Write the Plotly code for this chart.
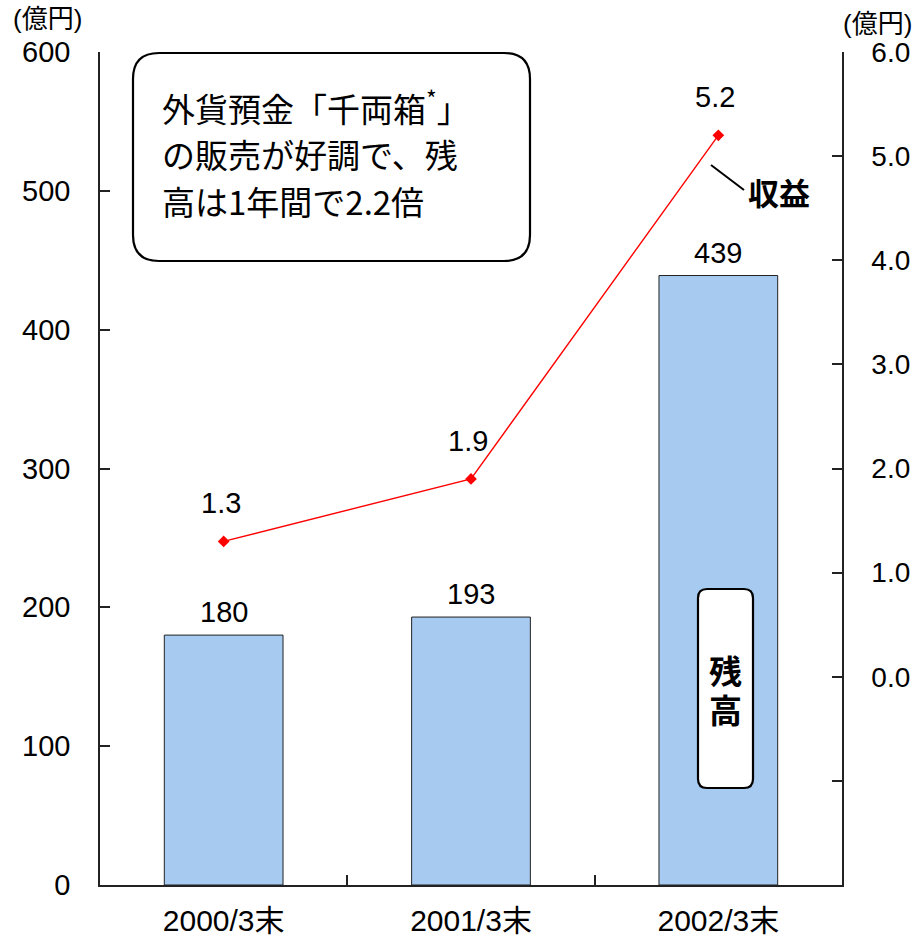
import plotly.graph_objects as go

# ---- data ----
categories = ["2000/3末", "2001/3末", "2002/3末"]
balance = [180, 193, 439]          # 残高（億円） left axis
profit = [1.3, 1.9, 5.2]           # 収益（億円） right axis
left_ticks = [0, 100, 200, 300, 400, 500, 600]
right_ticks = [0, 1, 2, 3, 4, 5, 6]
right_tick_text = ["0.0", "1.0", "2.0", "3.0", "4.0", "5.0", "6.0"]
right_minor_ticks = [-2, -1]       # unlabelled ticks below zero
right_range = [-2, 6]

FONT = "Liberation Sans, Arial, Noto Sans CJK JP, sans-serif"
JP = "Noto Sans CJK JP, sans-serif"

# plot-area geometry in pixels (used to place the decorations)
L, R, T, B = 100, 842, 52, 885
W, H = R - L, B - T


def px(x):
    return (x - L) / W


def py(y):
    return (B - y) / H


def rounded_rect(x0, y0, x1, y1, r):
    """SVG path (paper coords) for a rounded rectangle given in pixels."""
    rx, ry = r / W, r / H
    a, b, c, d = px(x0), px(x1), py(y0), py(y1)  # left, right, top, bottom
    return (
        f"M {a + rx},{c} L {b - rx},{c} Q {b},{c} {b},{c - ry} "
        f"L {b},{d + ry} Q {b},{d} {b - rx},{d} "
        f"L {a + rx},{d} Q {a},{d} {a},{d + ry} "
        f"L {a},{c - ry} Q {a},{c} {a + rx},{c} Z"
    )


fig = go.Figure()

fig.add_trace(go.Bar(
    x=categories, y=balance, width=0.48,
    marker=dict(color="#A6CAF0", line=dict(color="#222222", width=1)),
    yaxis="y", showlegend=False, hoverinfo="x+y",
))

fig.add_trace(go.Scatter(
    x=categories, y=profit, mode="lines+markers",
    line=dict(color="#FF0000", width=1.4),
    marker=dict(symbol="diamond", size=9, color="#FF0000"),
    yaxis="y2", showlegend=False,
))

annotations = []
# bar value labels
for c, v in zip(categories, balance):
    annotations.append(dict(x=c, y=v, xref="x", yref="y", text=str(v),
                            showarrow=False, yanchor="middle", yshift=23,
                            font=dict(family=FONT, size=29, color="black")))
# line value labels
for c, v in zip(categories, profit):
    annotations.append(dict(x=c, y=v, xref="x", yref="y2", text=f"{v:.1f}",
                            showarrow=False, yanchor="middle", yshift=38,
                            xshift=-3,
                            font=dict(family=FONT, size=29, color="black")))

# unit labels
annotations.append(dict(x=px(47), y=py(19), xref="paper", yref="paper",
                        text="(億円)", showarrow=False, xanchor="center",
                        yanchor="middle",
                        font=dict(family=FONT, size=26, color="black")))
annotations.append(dict(x=px(877), y=py(24), xref="paper", yref="paper",
                        text="(億円)", showarrow=False, xanchor="center",
                        yanchor="middle",
                        font=dict(family=FONT, size=26, color="black")))

# callout text
callout = ["外貨預金「千両箱<sup>*</sup>」", "の販売が好調で、残", "高は1年間で2.2倍"]
for line, yc in zip(callout, [107, 154, 201]):
    annotations.append(dict(x=px(160), y=py(yc), xref="paper", yref="paper",
                            text=line, showarrow=False, xanchor="left",
                            yanchor="middle",
                            font=dict(family=JP, size=33, color="black")))

# series name labels
annotations.append(dict(x=px(779), y=py(191), xref="paper", yref="paper",
                        text="<b>収益</b>", showarrow=False, xanchor="center",
                        yanchor="middle",
                        font=dict(family=JP, size=31, color="black")))
for ch, yc in zip(["残", "高"], [670, 709]):
    annotations.append(dict(x=px(725), y=py(yc), xref="paper", yref="paper",
                            text=f"<b>{ch}</b>", showarrow=False,
                            xanchor="center", yanchor="middle",
                            font=dict(family=JP, size=33, color="black")))

shapes = [
    dict(type="path", xref="paper", yref="paper",
         path=rounded_rect(133, 53, 530, 261, 26),
         line=dict(color="black", width=2.2), fillcolor="white", layer="above"),
    dict(type="path", xref="paper", yref="paper",
         path=rounded_rect(698, 589, 753, 788, 9),
         line=dict(color="black", width=2.2), fillcolor="white", layer="above"),
    dict(type="line", xref="paper", yref="paper",
         x0=px(711), y0=py(165), x1=px(744), y1=py(190),
         line=dict(color="black", width=2)),
]

axis_line = dict(showline=True, linecolor="#222222", linewidth=1.5,
                 showgrid=False, zeroline=False, ticks="inside", ticklen=10,
                 tickcolor="#222222", tickwidth=1.5, automargin=False)

fig.update_layout(
    width=915, height=946,
    margin=dict(l=L, r=915 - R, t=T, b=946 - B),
    paper_bgcolor="white", plot_bgcolor="white",
    font=dict(family=FONT, size=29, color="black"),
    bargap=0.52,
    xaxis=dict(**axis_line, tickson="boundaries", ticklabelstandoff=8,
               tickfont=dict(family=FONT, size=30),
               range=[-0.5, 2.5]),
    yaxis=dict(**axis_line, range=[0, 600], tickvals=left_ticks,
               ticklabelstandoff=22, tickfont=dict(family=FONT, size=29)),
    yaxis2=dict(**axis_line, overlaying="y", side="right", range=right_range,
                tickvals=right_ticks, ticktext=right_tick_text,
                ticklabelstandoff=22, tickfont=dict(family=FONT, size=28),
                minor=dict(tickvals=right_minor_ticks, ticks="inside",
                           ticklen=10, tickcolor="#222222", tickwidth=1.5,
                           showgrid=False)),
    annotations=annotations,
    shapes=shapes,
)

fig.write_html("out.html")
